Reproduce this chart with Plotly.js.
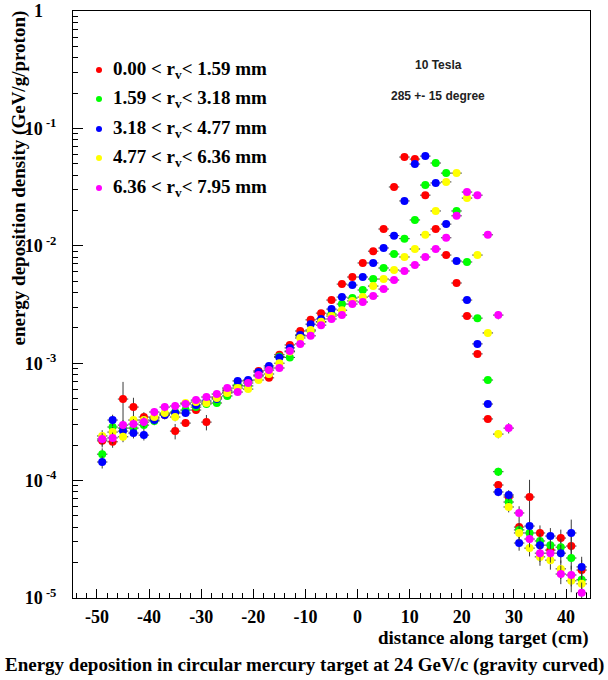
<!DOCTYPE html>
<html><head><meta charset="utf-8">
<script src="https://cdn.plot.ly/plotly-3.0.1.min.js"></script>
<style>html,body{margin:0;padding:0;background:#fff;} #chart{width:608px;height:680px;}</style>
</head><body><div id="chart"></div>
<script>
// bin centres (cm) along target, 2 cm bins
const binCenters = [-49,-47,-45,-43,-41,-39,-37,-35,-33,-31,-29,-27,-25,-23,-21,-19,-17,-15,-13,-11,-9,-7,-5,-3,-1,1,3,5,7,9,11,13,15,17,19,21,23,25,27,29,31,33,35,37,39,41,43];
const binHalfWidth = 1;

const seriesNames = ["0.00 < r<sub>v</sub>< 1.59 mm","1.59 < r<sub>v</sub>< 3.18 mm","3.18 < r<sub>v</sub>< 4.77 mm","4.77 < r<sub>v</sub>< 6.36 mm","6.36 < r<sub>v</sub>< 7.95 mm"];

// energy deposition density (GeV/g/proton)
const edepR = [2.18e-4,2.14e-4,4.95e-4,4.23e-4,3.48e-4,3.41e-4,3.62e-4,2.64e-4,3.09e-4,3.99e-4,3.15e-4,5.15e-4,5.9e-4,6.4e-4,7.06e-4,8.6e-4,7.5e-4,1.18e-3,1.43e-3,1.88e-3,2.34e-3,2.67e-3,3.45e-3,4.72e-3,5.42e-3,7.14e-3,9.0e-3,1.39e-2,3.17e-2,5.7e-2,5.48e-2,2.70e-2,1.39e-2,8.34e-3,4.82e-3,2.52e-3,1.20e-3,3.35e-4,9.17e-5,7.25e-5,4.02e-5,7.25e-5,3.58e-5,2.56e-5,3.24e-5,2.77e-5,1.73e-5];
const edepG = [1.68e-4,2.86e-4,2.80e-4,2.80e-4,2.97e-4,3.22e-4,3.69e-4,3.84e-4,3.99e-4,4.23e-4,4.49e-4,4.58e-4,5.26e-4,6.51e-4,6.4e-4,7.78e-4,9.1e-4,1.14e-3,1.12e-3,1.71e-3,1.88e-3,2.25e-3,2.62e-3,3.19e-3,3.59e-3,4.20e-3,5.21e-3,6.47e-3,8.51e-3,1.15e-2,1.66e-2,3.29e-2,5.07e-2,4.16e-2,1.98e-2,7.28e-3,2.42e-3,7.19e-4,1.19e-4,6.57e-5,3.80e-5,3.58e-5,3.06e-5,2.82e-5,2.71e-5,2.19e-5,1.43e-5];
const edepB = [1.44e-4,3.28e-4,2.64e-4,2.54e-4,2.44e-4,3.28e-4,3.62e-4,3.76e-4,3.76e-4,4.40e-4,4.76e-4,4.95e-4,5.68e-4,7.06e-4,7.19e-4,8.41e-4,9.47e-4,1.12e-3,1.35e-3,1.74e-3,2.15e-3,2.38e-3,2.89e-3,3.66e-3,4.63e-3,5.42e-3,7.14e-3,9.58e-3,1.22e-2,2.41e-2,4.97e-2,5.81e-2,3.43e-2,1.53e-2,7.42e-3,3.45e-3,1.46e-3,4.49e-4,8.0e-5,7.54e-5,2.94e-5,4.10e-5,2.82e-5,3.37e-5,2.41e-5,3.58e-5,1.84e-5];
const edepY = [2.40e-4,2.59e-4,2.36e-4,3.28e-4,3.28e-4,3.48e-4,3.76e-4,3.48e-4,4.58e-4,4.67e-4,4.58e-4,5.05e-4,5.57e-4,6.14e-4,6.02e-4,7.19e-4,8.09e-4,1.00e-3,1.25e-3,1.64e-3,1.92e-3,2.25e-3,2.52e-3,2.83e-3,3.39e-3,3.66e-3,4.54e-3,5.21e-3,6.22e-3,8.03e-3,9.39e-3,1.24e-2,1.98e-2,3.50e-2,4.16e-2,2.55e-2,8.34e-3,1.81e-3,2.49e-4,5.96e-5,3.58e-5,2.66e-5,2.24e-5,2.10e-5,1.77e-5,1.40e-5,1.32e-5];
const edepM = [2.26e-4,2.31e-4,2.97e-4,3.03e-4,3.15e-4,3.84e-4,4.23e-4,4.32e-4,4.49e-4,4.85e-4,5.15e-4,5.46e-4,6.14e-4,5.68e-4,6.78e-4,7.93e-4,8.74e-4,9.1e-4,1.27e-3,1.46e-3,1.71e-3,2.11e-3,2.38e-3,2.57e-3,3.19e-3,3.32e-3,3.73e-3,4.28e-3,5.11e-3,6.10e-3,6.86e-3,8.03e-3,9.39e-3,1.17e-2,1.80e-2,2.87e-2,2.70e-2,1.24e-2,2.57e-3,2.80e-4,5.30e-5,3.18e-5,2.41e-5,2.41e-5,1.60e-5,1.57e-5,1.11e-5];

// relative statistical error per bin (shared), plus a few larger ones
const relErr = [0.12,0.11,0.10,0.10,0.10, 0.08,0.08,0.08,0.07,0.07, 0.07,0.06,0.06,0.05,0.05, 0.05,0.05,0.04,0.04,0.04, 0.03,0.03,0.03,0.03,0.03,0.03,0.03,0.03,0.03,0.03, 0.03,0.03,0.03,0.03,0.03,0.03, 0.04,0.05, 0.08,0.10, 0.14,0.15,0.16,0.17,0.18,0.20,0.22];
const errOverrideSeries = [0,0,0,0,0,2];
const errOverrideBin    = [-45,33,-43,-35,-29,41];
const errOverrideRel    = [0.40,0.40,0.20,0.15,0.15,0.30];

const yTickVals = [1e-5,1e-4,1e-3,1e-2,1e-1,1];
const yTickText = ["10<sup> -5</sup>","10<sup> -4</sup>","10<sup> -3</sup>","10<sup> -2</sup>","10<sup> -1</sup>","1   "];
const xTickVals = [-50,-40,-30,-20,-10,0,10,20,30,40];
const xTickText = ["-50","-40","-30","-20","-10","0","10","20","30","40"];

const allSeries = [edepR, edepG, edepB, edepY, edepM];
const colors = ["#ff0000","#00ff00","#0000ff","#ffff00","#ff00ff"];

const traces = allSeries.map((vals, s) => {
  const errs = vals.map((v, i) => {
    let r = relErr[i];
    for (let k = 0; k < errOverrideSeries.length; k++) {
      if (errOverrideSeries[k] === s && errOverrideBin[k] === binCenters[i]) r = errOverrideRel[k];
    }
    return v * r;
  });
  return {
    type: "scatter", mode: "markers",
    x: binCenters, y: vals, name: seriesNames[s],
    marker: {color: colors[s], size: 8, line: {width: 0}},
    error_x: {type: "constant", value: binHalfWidth, width: 0, thickness: 1, color: "#3a3a3a"},
    error_y: {type: "data", array: errs, width: 0, thickness: 1, color: "#3a3a3a"},
    showlegend: false, hoverinfo: "skip"
  };
});

// plot box in pixels
const L = 73, R = 590, T = 11, B = 598;
const px = x => (x - L) / (R - L);
const py = y => (B - y) / (B - T);

const serif = "Liberation Serif, Times New Roman, serif";
const sans = "Liberation Sans, Arial, Helvetica, sans-serif";

const minorY = [];
for (let k = -5; k < 0; k++) for (let m = 2; m <= 9; m++) minorY.push(m * Math.pow(10, k));

const annotations = [];
const shapes = [];
const legendY = [70, 99, 129, 158, 188];
seriesNames.forEach((n, s) => {
  annotations.push({xref: "paper", yref: "paper", x: px(111), y: py(legendY[s]), xanchor: "left", yanchor: "middle",
    text: "<b>" + n + "</b>", showarrow: false, font: {family: serif, size: 19, color: "#000"}});
  shapes.push({type: "circle", xref: "paper", yref: "paper", xsizemode: "pixel", ysizemode: "pixel",
    xanchor: px(99), yanchor: py(legendY[s]), x0: -3, x1: 3, y0: -3, y1: 3,
    fillcolor: colors[s], line: {width: 0}});
});
annotations.push({xref: "paper", yref: "paper", x: px(438), y: py(65), xanchor: "center", yanchor: "middle",
  text: "<b>10 Tesla</b>", showarrow: false, font: {family: sans, size: 12, color: "#222"}});
annotations.push({xref: "paper", yref: "paper", x: px(438), y: py(96), xanchor: "center", yanchor: "middle",
  text: "<b>285 +- 15 degree</b>", showarrow: false, font: {family: sans, size: 12, color: "#222"}});
annotations.push({xref: "paper", yref: "paper", x: px(18), y: py(9), xanchor: "center", yanchor: "top", textangle: -90,
  text: "<b>energy deposition density (GeV/g/proton)</b>", showarrow: false, font: {family: serif, size: 19, color: "#000"}});
annotations.push({xref: "paper", yref: "paper", x: px(591), y: py(638), xanchor: "right", yanchor: "middle",
  text: "<b>distance along target (cm)</b>", showarrow: false, font: {family: serif, size: 19, color: "#000"}});
annotations.push({xref: "paper", yref: "paper", x: px(304), y: py(665), xanchor: "center", yanchor: "middle",
  text: "<b>Energy deposition in circular mercury target at 24 GeV/c (gravity curved)</b>", showarrow: false, font: {family: serif, size: 19, color: "#000"}});

const layout = {
  width: 608, height: 680,
  margin: {l: L, r: 608 - R, t: T, b: 680 - B, pad: 0},
  paper_bgcolor: "#fff", plot_bgcolor: "#fff",
  showlegend: false,
  xaxis: {
    range: [-54.6, 44.6], tickmode: "array", tickvals: xTickVals, ticktext: xTickText.map(t => "<b>" + t + "</b>"),
    ticks: "inside", ticklen: 9, tickwidth: 1, tickcolor: "#000",
    minor: {tickmode: "linear", tick0: 0, dtick: 2, ticks: "inside", ticklen: 5, tickwidth: 1, tickcolor: "#000", showgrid: false},
    showline: true, linecolor: "#000", linewidth: 1, mirror: true,
    showgrid: false, zeroline: false, ticklabelstandoff: 2,
    tickfont: {family: serif, size: 18, color: "#000"}
  },
  yaxis: {
    type: "log", range: [-5, 0], tickmode: "array", tickvals: yTickVals, ticktext: yTickText.map(t => "<b>" + t + "</b>"),
    ticks: "inside", ticklen: 10, tickwidth: 1, tickcolor: "#000",
    minor: {tickmode: "array", tickvals: minorY, ticks: "inside", ticklen: 5, tickwidth: 1, tickcolor: "#000", showgrid: false},
    showline: true, linecolor: "#000", linewidth: 1, mirror: true,
    showgrid: false, zeroline: false, ticklabelstandoff: 12,
    tickfont: {family: serif, size: 18, color: "#000"}
  },
  annotations: annotations,
  shapes: shapes
};

Plotly.newPlot("chart", traces, layout, {displayModeBar: false, staticPlot: true});
</script>
</body></html>
